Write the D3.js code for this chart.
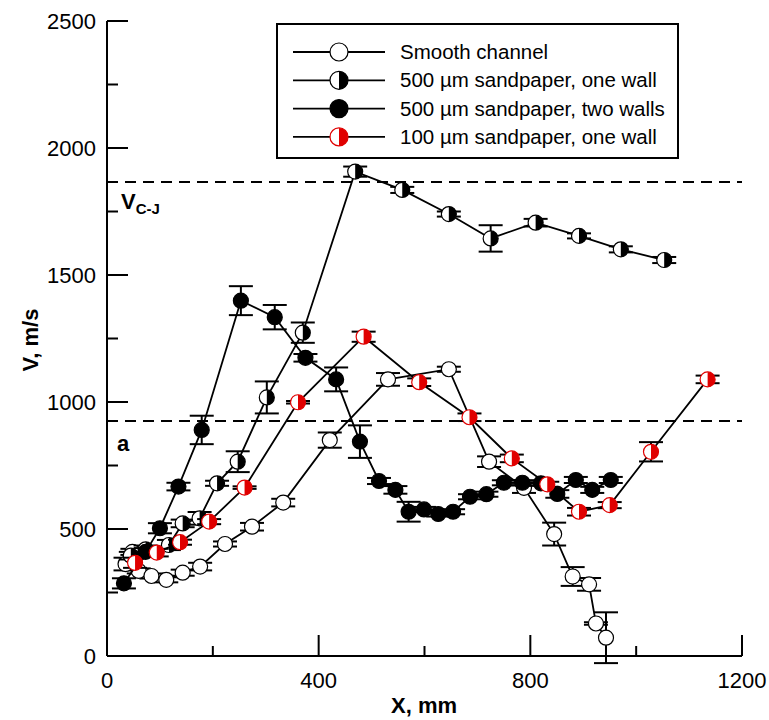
<!DOCTYPE html>
<html><head><meta charset="utf-8">
<script src="https://cdn.jsdelivr.net/npm/d3@7"></script>
<style>body{margin:0;background:#fff}</style>
</head><body>
<svg id="c" width="769" height="720"></svg>
<script>
// ---- data ----
const seriesNames = ["Smooth channel", "500 µm sandpaper, one wall", "500 µm sandpaper, two walls", "100 µm sandpaper, one wall"];

const smoothX   = [35, 48, 60, 84, 112, 143, 176, 223, 274, 333, 421, 531, 646, 722, 788, 845, 880, 911, 924, 943];
const smoothV   = [362, 410, 335, 315, 300, 328, 352, 441, 509, 604, 850, 1089, 1129, 765, 662, 480, 313, 282, 128, 72];
const smoothErr = [25, 12, 10, 10, 10, 12, 15, 10, 15, 15, 30, 25, 10, 21, 20, 45, 37, 25, 5, 100];

const oneWallX   = [45, 73, 117, 143, 175, 208, 247, 302, 370, 469, 558, 646, 725, 810, 892, 971, 1053];
const oneWallV   = [395, 420, 437, 522, 542, 680, 765, 1018, 1273, 1907, 1835, 1740, 1644, 1706, 1654, 1601, 1559];
const oneWallErr = [15, 15, 20, 15, 25, 10, 41, 63, 40, 20, 12, 10, 52, 15, 10, 12, 12];

const twoWallX   = [32, 73, 100, 135, 179, 253, 317, 375, 433, 478, 514, 545, 570, 599, 626, 654, 686, 717, 750, 785, 820, 851, 886, 917, 952];
const twoWallV   = [286, 410, 503, 667, 890, 1399, 1334, 1174, 1089, 844, 689, 654, 568, 577, 559, 568, 627, 637, 682, 682, 680, 638, 693, 654, 693];
const twoWallErr = [20, 15, 20, 15, 56, 57, 48, 15, 47, 64, 12, 15, 39, 10, 10, 10, 10, 10, 10, 10, 10, 15, 12, 12, 12];

const fineX   = [53, 94, 138, 193, 260, 361, 485, 590, 685, 765, 832, 892, 950, 1028, 1135];
const fineV   = [367, 407, 448, 529, 663, 999, 1257, 1078, 940, 778, 676, 568, 594, 804, 1089];
const fineErr = [20, 15, 10, 10, 5, 5, 20, 15, 15, 15, 10, 15, 12, 38, 15];

const xTicks = [0, 400, 800, 1200];
const xMinor = [200, 600, 1000];
const yTicks = [0, 500, 1000, 1500, 2000, 2500];
const yMinor = [250, 750, 1250, 1750, 2250];
const vCJ = 1866;
const vA = 925;

// ---- drawing ----
const svg = d3.select("#c");
const x = d3.scaleLinear().domain([0, 1200]).range([107, 742]);
const y = d3.scaleLinear().domain([0, 2500]).range([656, 21]);
const font = "Liberation Sans, Arial, sans-serif";

// axes
const ax = svg.append("g").attr("stroke", "#000").attr("stroke-width", 2);
ax.append("line").attr("x1", x(0)).attr("x2", x(0)).attr("y1", y(0)).attr("y2", y(2500));
ax.append("line").attr("x1", x(0)).attr("x2", x(1200)).attr("y1", y(0)).attr("y2", y(0));
yTicks.forEach(t => ax.append("line").attr("x1", x(0)).attr("x2", x(0) + 21).attr("y1", y(t)).attr("y2", y(t)));
yMinor.forEach(t => ax.append("line").attr("x1", x(0)).attr("x2", x(0) + 11).attr("y1", y(t)).attr("y2", y(t)));
xTicks.forEach(t => ax.append("line").attr("x1", x(t)).attr("x2", x(t)).attr("y1", y(0)).attr("y2", y(0) - 21));
xMinor.forEach(t => ax.append("line").attr("x1", x(t)).attr("x2", x(t)).attr("y1", y(0)).attr("y2", y(0) - 10));

svg.append("g").selectAll("text").data(yTicks).join("text")
  .attr("x", 96).attr("y", d => y(d)).attr("dy", "0.36em")
  .attr("text-anchor", "end").attr("font-family", font).attr("font-size", 22).text(d => d);
svg.append("g").selectAll("text").data(xTicks).join("text")
  .attr("x", d => x(d)).attr("y", 688)
  .attr("text-anchor", "middle").attr("font-family", font).attr("font-size", 22).text(d => d);

svg.append("text").attr("x", 424).attr("y", 713).attr("text-anchor", "middle")
  .attr("font-family", font).attr("font-size", 22).attr("font-weight", "bold").text("X, mm");
svg.append("text").attr("transform", "translate(38,340) rotate(-90)").attr("text-anchor", "middle")
  .attr("font-family", font).attr("font-size", 22).attr("font-weight", "bold").text("V, m/s");

// dashed reference lines
[vCJ, vA].forEach(v => svg.append("line").attr("x1", x(0)).attr("x2", x(1200))
  .attr("y1", y(v)).attr("y2", y(v)).attr("stroke", "#000").attr("stroke-width", 2)
  .attr("stroke-dasharray", "11,7"));
const vt = svg.append("text").attr("x", 121).attr("y", 209).attr("font-family", font)
  .attr("font-weight", "bold").attr("font-size", 22);
vt.append("tspan").text("V");
vt.append("tspan").attr("font-size", 15).attr("dy", 5).text("C-J");
svg.append("text").attr("x", 117).attr("y", 451).attr("font-family", font)
  .attr("font-weight", "bold").attr("font-size", 22).text("a");

// marker drawing
function marker(g, cx, cy, r, type) {
  if (type === 0) {
    g.append("circle").attr("cx", cx).attr("cy", cy).attr("r", r).attr("fill", "#fff").attr("stroke", "#000").attr("stroke-width", 1.2);
  } else if (type === 2) {
    g.append("circle").attr("cx", cx).attr("cy", cy).attr("r", r).attr("fill", "#000").attr("stroke", "#000").attr("stroke-width", 1.2);
  } else {
    const col = type === 1 ? "#000" : "#e00000";
    g.append("circle").attr("cx", cx).attr("cy", cy).attr("r", r).attr("fill", "#fff");
    g.append("path").attr("d", `M${cx},${cy - r}A${r},${r} 0 0 1 ${cx},${cy + r}Z`).attr("fill", col);
    g.append("circle").attr("cx", cx).attr("cy", cy).attr("r", r).attr("fill", "none").attr("stroke", col).attr("stroke-width", 1.2);
  }
}

const series = [
  {xs: smoothX, vs: smoothV, es: smoothErr, type: 0},
  {xs: oneWallX, vs: oneWallV, es: oneWallErr, type: 1},
  {xs: twoWallX, vs: twoWallV, es: twoWallErr, type: 2},
  {xs: fineX, vs: fineV, es: fineErr, type: 3}
];
const line = d3.line().x(d => x(d[0])).y(d => y(d[1]));
series.forEach(s => {
  const g = svg.append("g");
  const pts = s.xs.map((v, i) => [v, s.vs[i], s.es[i]]);
  g.append("path").attr("d", line(pts)).attr("fill", "none").attr("stroke", "#000").attr("stroke-width", 1.8);
  pts.forEach(p => {
    const px = x(p[0]);
    const eb = g.append("g").attr("stroke", "#000").attr("stroke-width", 2);
    eb.append("line").attr("x1", px).attr("x2", px).attr("y1", y(p[1] - p[2])).attr("y2", y(p[1] + p[2]));
    eb.append("line").attr("x1", px - 12).attr("x2", px + 12).attr("y1", y(p[1] - p[2])).attr("y2", y(p[1] - p[2]));
    eb.append("line").attr("x1", px - 12).attr("x2", px + 12).attr("y1", y(p[1] + p[2])).attr("y2", y(p[1] + p[2]));
  });
  pts.forEach(p => marker(g, x(p[0]), y(p[1]), 7.5, s.type));
});

// legend
const lg = svg.append("g");
lg.append("rect").attr("x", 277).attr("y", 24).attr("width", 401).attr("height", 134)
  .attr("fill", "#fff").attr("stroke", "#000").attr("stroke-width", 2);
seriesNames.forEach((name, i) => {
  const ly = 52 + i * 28.3;
  lg.append("line").attr("x1", 293).attr("x2", 385).attr("y1", ly).attr("y2", ly).attr("stroke", "#000").attr("stroke-width", 1.8);
  marker(lg, 339, ly, 9, i);
  lg.append("text").attr("x", 400).attr("y", ly).attr("dy", "0.35em").attr("font-family", font)
    .attr("font-size", 20.5).text(name);
});
</script>
</body></html>
